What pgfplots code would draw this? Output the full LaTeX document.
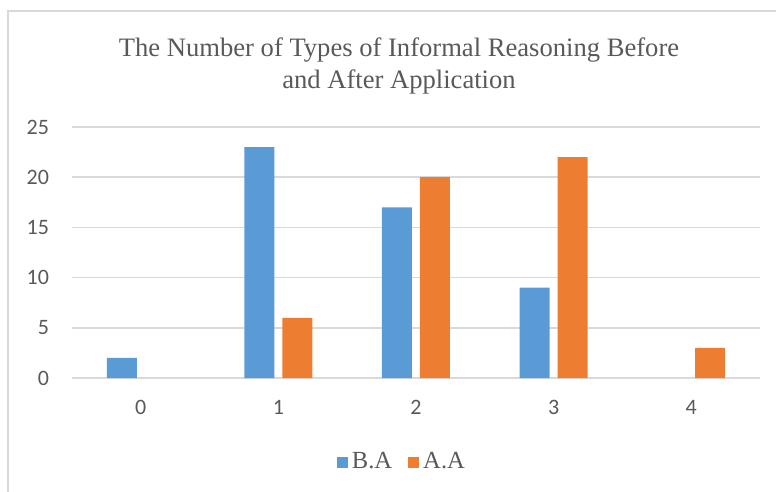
\documentclass[border=0pt]{standalone}
\usepackage{pgfplots}
\pgfplotsset{compat=1.18}
\usepackage{fontspec}
\setmainfont{Liberation Serif}
\newfontfamily\carlito{Carlito}
\definecolor{baBlue}{HTML}{5B9BD5}
\definecolor{aaOrange}{HTML}{ED7D31}
\definecolor{gridgray}{HTML}{D9D9D9}
\definecolor{txtgray}{HTML}{595959}
\begin{document}
\begin{tikzpicture}
\useasboundingbox (0pt,0pt) rectangle (388pt,-246pt);
\draw[gridgray, line width=0.75pt] (4pt,-250pt) -- (4pt,-5.5pt) -- (392pt,-5.5pt);
\node[align=center, text=txtgray, font=\fontsize{13.3}{16}\selectfont] at (199.5pt,-33.2pt) {The Number of Types of Informal Reasoning Before\\and After Application};
\begin{axis}[
  at={(36pt,-189pt)}, anchor=south west,
  scale only axis, width=344pt, height=125.5pt,
  ybar=4pt, bar width=15pt,
  xmin=-0.5, xmax=4.5, ymin=0, ymax=25,
  xtick={0,1,2,3,4}, ytick={0,5,10,15,20,25},
  ymajorgrids, grid style={gridgray, line width=0.75pt},
  axis line style={draw=none}, major tick length=0pt,
  tick label style={text=txtgray, font=\carlito\fontsize{11}{13}\selectfont},
  /pgf/number format/assume math mode=true,
  xticklabel style={yshift=-7.5pt},
  yticklabel style={xshift=-8pt},
  legend style={at={(0.481,-0.335)}, anchor=center, draw=none,
    legend columns=2, font=\fontsize{12.3}{14}\selectfont, text=txtgray,
    /tikz/every even column/.append style={column sep=6pt}},
  clip=false,
]
\addplot[fill=baBlue, draw=none, legend image code/.code={\fill[baBlue] (0pt,-2.75pt) rectangle (5.5pt,2.75pt);}]
  coordinates {(0,2) (1,23) (2,17) (3,9)};
\addlegendentry{B.A}
\addplot[fill=aaOrange, draw=none, legend image code/.code={\fill[aaOrange] (0pt,-2.75pt) rectangle (5.5pt,2.75pt);}]
  coordinates {(1,6) (2,20) (3,22) (4,3)};
\addlegendentry{A.A}
\end{axis}
\end{tikzpicture}
\end{document}
